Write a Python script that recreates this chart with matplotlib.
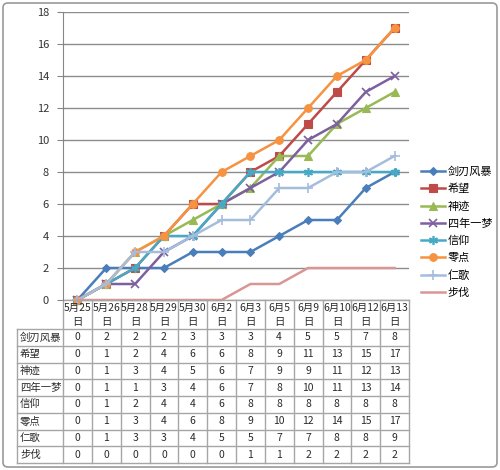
import matplotlib
matplotlib.use("Agg")
import matplotlib.pyplot as plt
from matplotlib.patches import FancyBboxPatch

plt.rcParams['font.family'] = ['Noto Sans CJK SC', 'DejaVu Sans']

dates = ["5月25\n日", "5月26\n日", "5月28\n日", "5月29\n日", "5月30\n日", "6月2\n日",
         "6月3\n日", "6月5\n日", "6月9\n日", "6月10\n日", "6月12\n日", "6月13\n日"]
names = ["剑刃风暴", "希望", "神迹", "四年一梦", "信仰", "零点", "仁歌", "步伐"]

jianren = [0, 2, 2, 2, 3, 3, 3, 4, 5, 5, 7, 8]
xiwang = [0, 1, 2, 4, 6, 6, 8, 9, 11, 13, 15, 17]
shenji = [0, 1, 3, 4, 5, 6, 7, 9, 9, 11, 12, 13]
sinian = [0, 1, 1, 3, 4, 6, 7, 8, 10, 11, 13, 14]
xinyang = [0, 1, 2, 4, 4, 6, 8, 8, 8, 8, 8, 8]
lingdian = [0, 1, 3, 4, 6, 8, 9, 10, 12, 14, 15, 17]
renge = [0, 1, 3, 3, 4, 5, 5, 7, 7, 8, 8, 9]
bufa = [0, 0, 0, 0, 0, 0, 1, 1, 2, 2, 2, 2]
series = [jianren, xiwang, shenji, sinian, xinyang, lingdian, renge, bufa]

colors = ["#4A7EBB", "#BE4B48", "#98B954", "#7D60A0", "#46AAC5", "#F69240", "#A5BDDD", "#D99694"]
markers = ["D", "s", "^", "x", (6, 2, 0), "o", "+", None]
msizes = [4, 5.5, 5.5, 5.5, 6.5, 5.5, 6.5, 0]

W, H = 500, 470
fig = plt.figure(figsize=(W / 100, H / 100), dpi=100)
fig.patches.append(FancyBboxPatch((3 / W, 3 / H), 494 / W, 464 / H,
                                  boxstyle="round,pad=0,rounding_size=0.01",
                                  transform=fig.transFigure, facecolor="white",
                                  edgecolor="#9A9A9A", linewidth=1.2, zorder=-10))

left, right, top, bottom = 63, 409, 12, 300
ax = fig.add_axes([left / W, 1 - bottom / H, (right - left) / W, (bottom - top) / H])
ax.set_facecolor("none")

x = list(range(len(dates)))
for vals, name, c, m, ms in zip(series, names, colors, markers, msizes):
    ax.plot(x, vals, color=c, marker=m, markersize=ms, linewidth=1.8, label=name,
            markeredgewidth=1.2 if m in ("x", "+", (6, 2, 0)) else 0.8, clip_on=False)

ax.set_xlim(-0.5, len(dates) - 0.5)
ax.set_ylim(0, 18)
ax.set_yticks(range(0, 19, 2))
ax.yaxis.grid(True, color="#8C8C8C", linewidth=1)
ax.set_axisbelow(True)
ax.set_xticks([])
for s in ["top", "right", "bottom"]:
    ax.spines[s].set_visible(False)
ax.spines["left"].set_color("#868686")
ax.tick_params(axis="y", length=4, color="#868686", labelsize=8, labelcolor="#333333", pad=6)

# data table under the chart, in axes coordinates
ah = bottom - top
aw = right - left
ncol = len(dates)
lab_x0 = -(left - 17) / aw
hdr_bot = -29 / ah
row_h = 16.75 / ah
tbl_bot = hdr_bot - row_h * len(names)
lk = dict(transform=ax.transAxes, clip_on=False, color="#A6A6A6", linewidth=1)
tk = dict(transform=ax.transAxes, fontsize=7.5, color="#2A2A2A", clip_on=False)

ax.plot([0, 1], [0, 0], **lk)
for i in range(ncol + 1):
    ax.plot([i / ncol, i / ncol], [0, tbl_bot], **lk)
ax.plot([lab_x0, lab_x0], [hdr_bot, tbl_bot], **lk)
for r in range(len(names) + 1):
    y = hdr_bot - r * row_h
    ax.plot([lab_x0, 1], [y, y], **lk)

for i, d in enumerate(dates):
    ax.text((i + 0.5) / ncol, hdr_bot / 2, d, ha="center", va="center",
            linespacing=1.5, **tk)
for r, (name, vals) in enumerate(zip(names, series)):
    yc = hdr_bot - (r + 0.5) * row_h
    ax.text(lab_x0 + 3 / aw, yc, name, ha="left", va="center", **tk)
    for i, v in enumerate(vals):
        ax.text((i + 0.5) / ncol, yc, str(v), ha="center", va="center", **tk)

fig.legend(loc="center left", bbox_to_anchor=(421 / W, 1 - 232 / H), frameon=False,
           fontsize=8, labelspacing=0.62, handlelength=2.2, handletextpad=0.2,
           borderpad=0, borderaxespad=0)

fig.savefig("out.png", dpi=100)
